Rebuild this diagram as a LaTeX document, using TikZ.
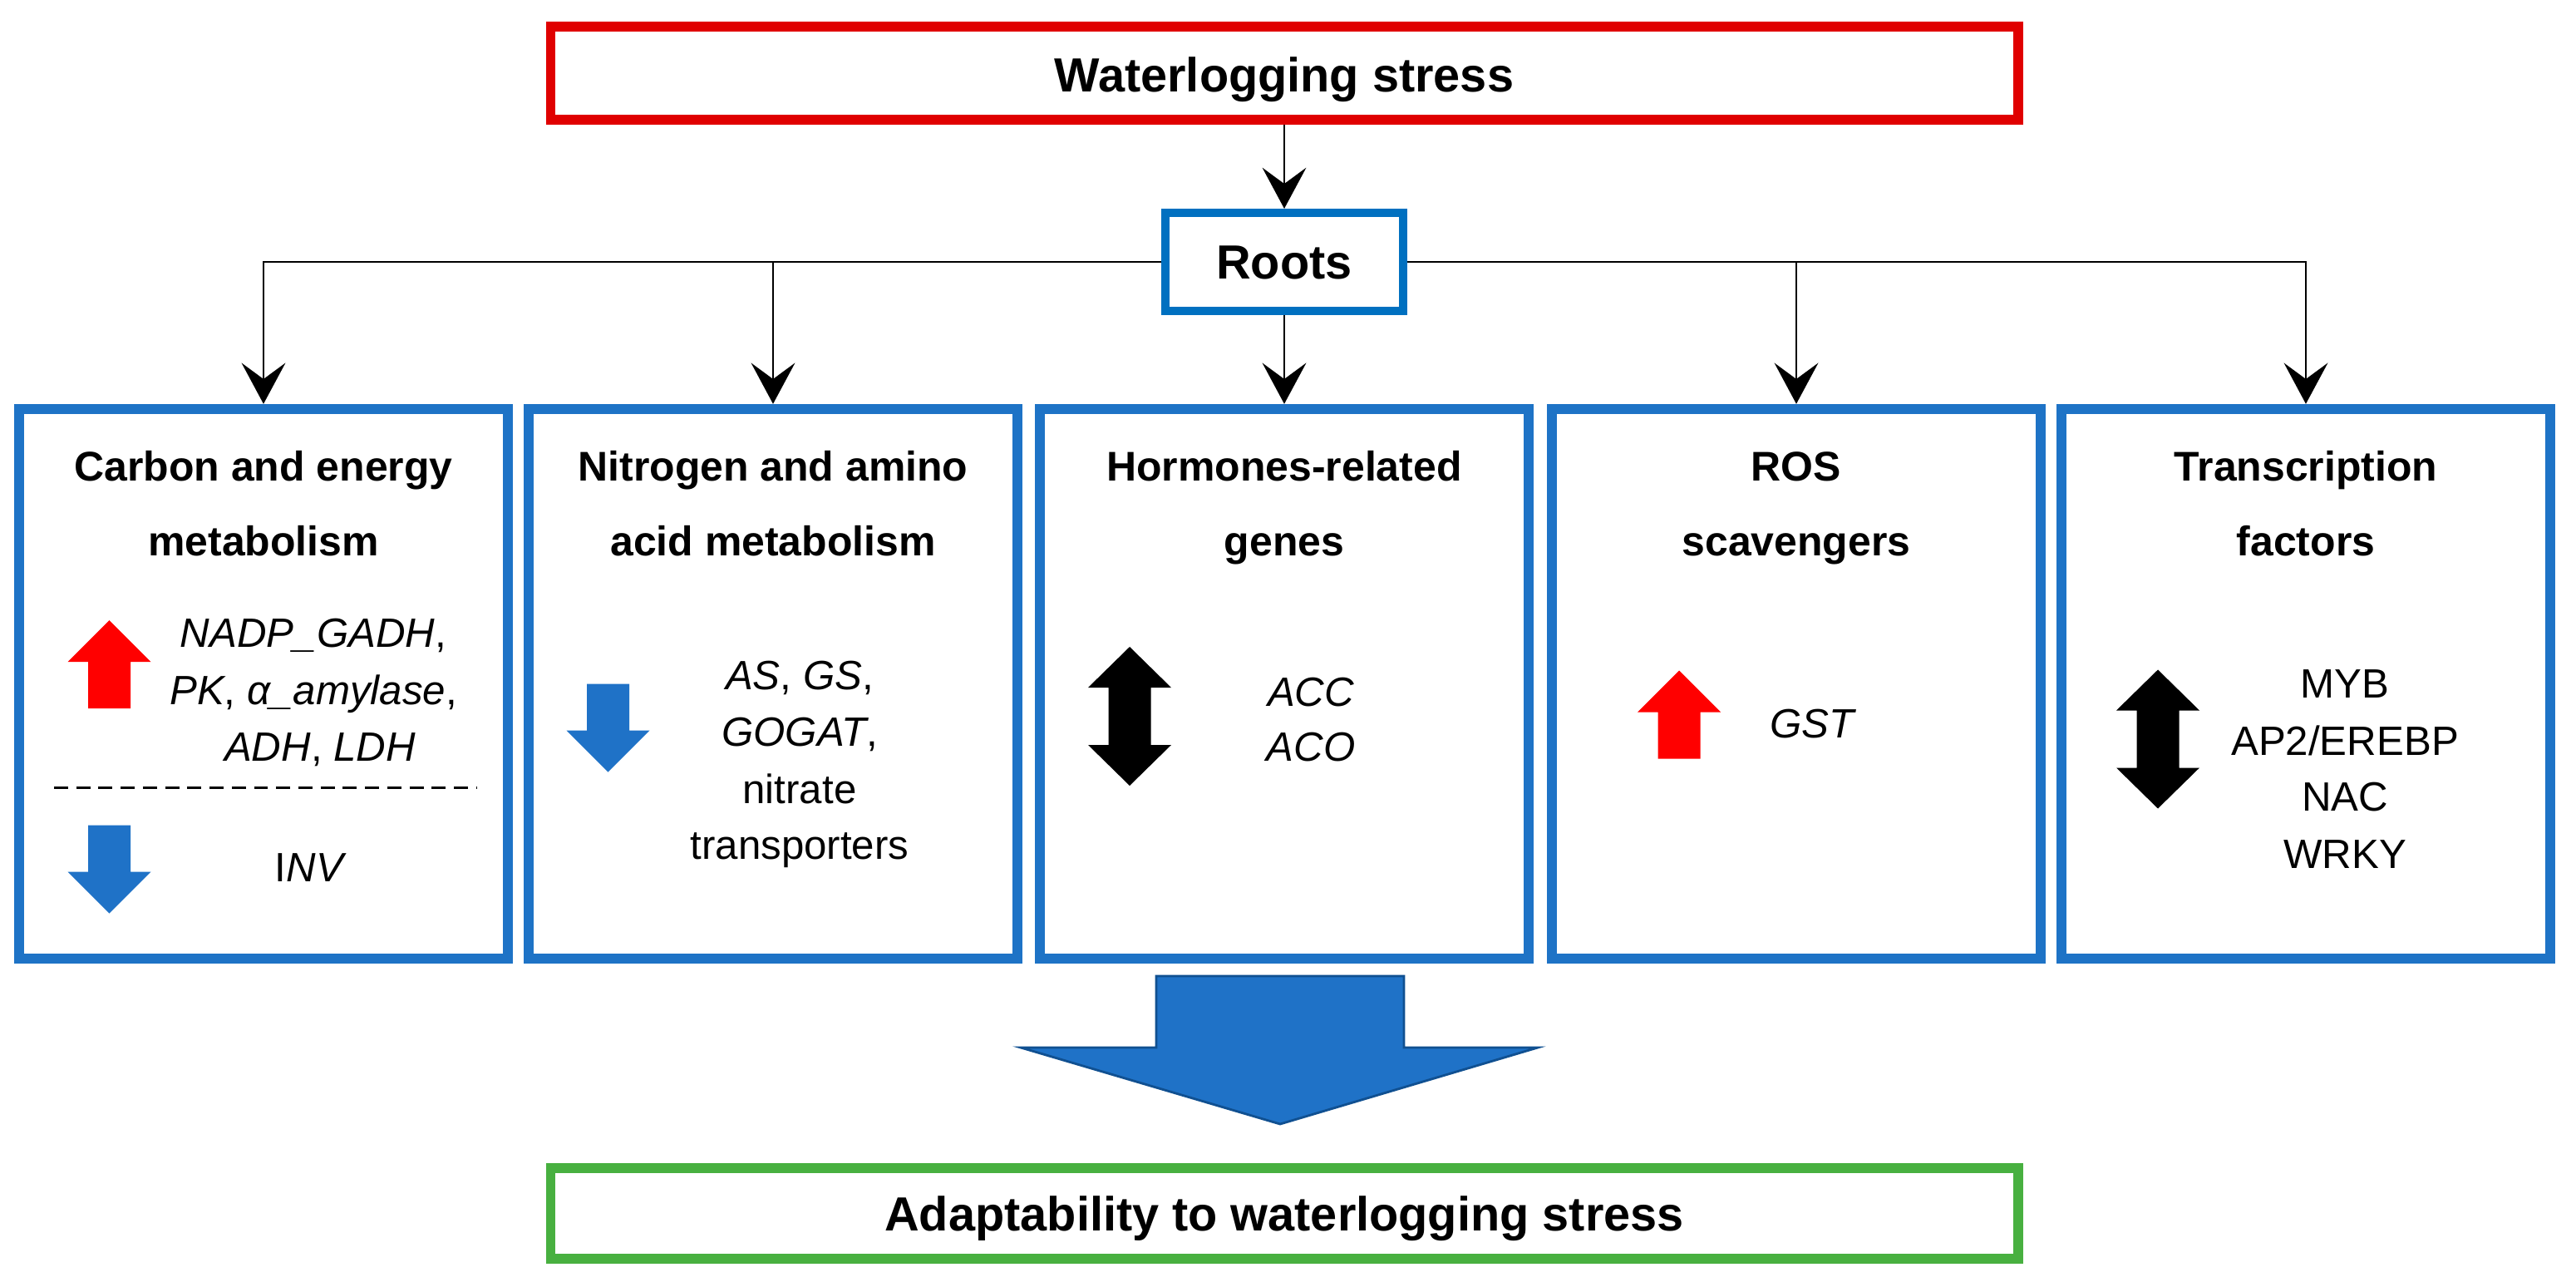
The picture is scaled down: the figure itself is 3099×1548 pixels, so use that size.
\documentclass[tikz,border=0pt]{standalone}
\usepackage{fontspec}
\setmainfont{Liberation Sans}
\usetikzlibrary{arrows.meta}
\definecolor{boxblue}{RGB}{30,115,198}
\definecolor{rootblue}{RGB}{0,112,192}
\definecolor{topred}{RGB}{224,0,0}
\definecolor{adgreen}{RGB}{72,176,64}
\definecolor{arrowblue}{RGB}{31,114,199}
\definecolor{arrowedge}{RGB}{16,80,145}
\definecolor{uparrred}{RGB}{255,0,0}
\begin{document}
\begin{tikzpicture}[x=0.01cm,y=-0.01cm,
  catbox/.style={draw=boxblue, line width=3.41pt, minimum width=5.88cm, minimum height=6.61cm, inner sep=0pt},
  titlebox/.style={line width=3.41pt, minimum width=17.64cm, minimum height=1.12cm, inner sep=0pt},
  rootbox/.style={draw=rootblue, line width=2.85pt, minimum width=2.85cm, minimum height=1.18cm, inner sep=0pt},
  conn/.style={line width=0.7pt, -{Stealth[length=14pt,width=15pt,inset=5.5pt]}},
  hdr/.style={font=\fontsize{14.2}{17}\selectfont\bfseries, inner sep=0pt, anchor=base},
  bigtxt/.style={font=\fontsize{16.4}{20}\selectfont\bfseries, inner sep=0pt, anchor=base},
  gene/.style={font=\fontsize{14}{17}\selectfont\itshape, inner sep=0pt, anchor=base},
  plain/.style={font=\fontsize{14}{17}\selectfont, inner sep=0pt, anchor=base},
  uparr/.pic={\path[pic actions] (-25.5,53) -- (-25.5,-3) -- (-50,-3) -- (0,-53) -- (50,-3) -- (25.5,-3) -- (25.5,53) -- cycle;},
  downarr/.pic={\path[pic actions] (-25.5,-53) -- (-25.5,3) -- (-50,3) -- (0,53) -- (50,3) -- (25.5,3) -- (25.5,-53) -- cycle;},
  dblarr/.pic={\path[pic actions] (0,-83.5) -- (50,-34.5) -- (25.5,-34.5) -- (25.5,34.5) -- (50,34.5) -- (0,83.5) -- (-50,34.5) -- (-25.5,34.5) -- (-25.5,-34.5) -- (-50,-34.5) -- cycle;}
]
\useasboundingbox[fill=white] (0,0) rectangle (3099,1548);

% top and bottom boxes
\node[titlebox, draw=topred] (top) at (1545,88) {};
\node[bigtxt] (toptxt) at (1545,110) {Waterlogging stress};
\node[rootbox] (roots) at (1545,315) {};
\node[bigtxt] (rootstxt) at (1545,335) {Roots};

% category boxes
\node[catbox] (b1) at (317,822.5) {};
\node[catbox] (b2) at (930,822.5) {};
\node[catbox] (b3) at (1545,822.5) {};
\node[catbox] (b4) at (2161,822.5) {};
\node[catbox] (b5) at (2774,822.5) {};

% connectors
\draw[conn] (top.south) -- (roots.north);
\draw[conn] (roots.west) -| (b1.north);
\draw[conn] (roots.west) -| (b2.north);
\draw[conn] (roots.south) -- (b3.north);
\draw[conn] (roots.east) -| (b4.north);
\draw[conn] (roots.east) -| (b5.north);

% headers
\node[hdr] (b1h1) at (317,578) {Carbon and energy};
\node[hdr] (b1h2) at (317,668) {metabolism};
\node[hdr] (b2h1) at (930,578) {Nitrogen and amino};
\node[hdr] (b2h2) at (930,668) {acid metabolism};
\node[hdr] (b3h1) at (1545,578) {Hormones-related};
\node[hdr] (b3h2) at (1545,668) {genes};
\node[hdr] (b4h1) at (2161,578) {ROS};
\node[hdr] (b4h2) at (2161,668) {scavengers};
\node[hdr] (b5h1) at (2774,578) {Transcription};
\node[hdr] (b5h2) at (2774,668) {factors};

% box 1
\pic[fill=uparrred] at (131.5,799) {uparr};
\node[gene] (g11) at (377,778) {NADP\_GADH\upshape,};
\node[gene] (g12) at (377,847) {PK\upshape, \itshape α\_amylase\upshape,};
\node[gene] (g13) at (385,915) {ADH\upshape, \itshape LDH};
\draw[line width=0.85pt, dash pattern=on 4.8pt off 2.8pt] (65,947) -- (574,947);
\pic[fill=arrowblue] at (131.5,1045.5) {downarr};
\node[plain] (g14) at (372,1060) {I\itshape NV};

% box 2
\pic[fill=arrowblue] at (731.5,875.5) {downarr};
\node[gene] (g21) at (962,829) {AS\upshape, \itshape GS\upshape,};
\node[gene] (g22) at (962,897) {GOGAT\upshape,};
\node[plain] (g23) at (962,966) {nitrate};
\node[plain] (g24) at (962,1033) {transporters};

% box 3
\pic[fill=black] at (1359,861.5) {dblarr};
\node[gene] (g31) at (1577,849) {ACC};
\node[gene] (g32) at (1577,915) {ACO};

% box 4
\pic[fill=uparrred] at (2020,859.5) {uparr};
\node[gene] (g41) at (2180,887) {GST};

% box 5
\pic[fill=black] at (2596,889) {dblarr};
\node[plain] (g51) at (2821,839) {MYB};
\node[plain] (g52) at (2821,908) {AP2/EREBP};
\node[plain] (g53) at (2821,975) {NAC};
\node[plain] (g54) at (2821,1044) {WRKY};

% big arrow
\filldraw[fill=arrowblue, draw=arrowedge, line width=0.8pt]
  (1391,1174) -- (1689,1174) -- (1689,1260) -- (1850,1260) -- (1540,1352) -- (1228,1260) -- (1391,1260) -- cycle;

% result box
\node[titlebox, draw=adgreen, minimum height=1.09cm] (res) at (1545,1459.5) {};
\node[bigtxt] (restxt) at (1545,1480) {Adaptability to waterlogging stress};
\end{tikzpicture}
\end{document}
